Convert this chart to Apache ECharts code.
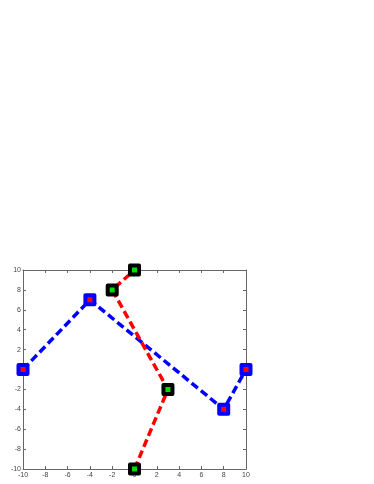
<!DOCTYPE html>
<html><head><meta charset="utf-8">
<script src="https://cdn.jsdelivr.net/npm/echarts@6/dist/echarts.min.js"></script>
<style>html,body{margin:0;padding:0;background:#fff}#c{width:374px;height:484px}</style>
</head><body><div id="c"></div>
<script>
const blueX = [-10, -4, 8, 10];
const blueY = [0, 7, -4, 0];
const redX = [0, 3, -2, 0];
const redY = [-10, -2, 8, 10];
const xTicks = [-10, -8, -6, -4, -2, 0, 2, 4, 6, 8, 10];
const yTicks = [-10, -8, -6, -4, -2, 0, 2, 4, 6, 8, 10];

const axisCommon = {
  type: 'value', min: -10, max: 10, interval: 2,
  axisLine: {show: true, onZero: false, lineStyle: {color: '#666', width: 1}},
  axisTick: {show: true, inside: true, length: 3, lineStyle: {color: '#666'}},
  splitLine: {show: false}
};
const lab = {fontSize: 7, color: '#444', fontFamily: 'Liberation Sans'};
const chart = echarts.init(document.getElementById('c'));
chart.setOption({
  animation: false,
  grid: {left: 23, top: 270, width: 223, height: 199},
  xAxis: [
    Object.assign({}, axisCommon, {position: 'bottom', axisLabel: Object.assign({margin: 3, formatter: v => xTicks.includes(v) ? String(v) : ''}, lab)}),
    Object.assign({}, axisCommon, {position: 'top', axisLabel: {show: false}})
  ],
  yAxis: [
    Object.assign({}, axisCommon, {position: 'left', axisLabel: Object.assign({margin: 2, formatter: v => yTicks.includes(v) ? String(v) : ''}, lab)}),
    Object.assign({}, axisCommon, {position: 'right', axisLabel: {show: false}})
  ],
  series: [
    {
      type: 'line', data: blueX.map((x, i) => [x, blueY[i]]),
      lineStyle: {color: '#0000ff', width: 3.5, type: [8, 4]},
      symbol: 'rect', symbolSize: 9,
      itemStyle: {color: '#ff0000', borderColor: '#0000ff', borderWidth: 4, borderJoin: 'round'}
    },
    {
      type: 'line', data: redX.map((x, i) => [x, redY[i]]),
      lineStyle: {color: '#ff0000', width: 3.5, type: [8, 4]},
      symbol: 'rect', symbolSize: 9,
      itemStyle: {color: '#00dd00', borderColor: '#000000', borderWidth: 4, borderJoin: 'round'}
    }
  ]
});
</script></body></html>
